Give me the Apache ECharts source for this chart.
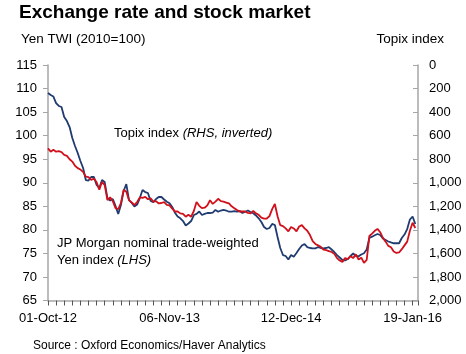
<!DOCTYPE html>
<html>
<head>
<meta charset="utf-8">
<script src="https://cdn.jsdelivr.net/npm/echarts@6/dist/echarts.min.js"></script>
<style>
  html, body { margin: 0; padding: 0; background: #fff; }
  #container { width: 466px; height: 354px; }
</style>
</head>
<body>
<div id="container"></div>
<script>
// tick labels on the date axis, one every 45 points
var xLabels = ['01-Oct-12', '06-Nov-13', '12-Dec-14', '19-Jan-16'];
var pointsPerLabel = 45;

// Topix index (RHS, inverted)
var topix = [
  238, 255, 268, 323, 348, 357, 442, 476, 527, 620,
  688, 747, 815, 875, 977, 981, 951, 951, 1019, 1045,
  977, 994, 1130, 1151, 1138, 1197, 1265, 1189, 1070, 1011,
  1147, 1172, 1202, 1185, 1130, 1062, 1079, 1087, 1155, 1164,
  1138, 1121, 1121, 1142, 1161, 1175, 1206, 1254, 1287, 1302,
  1325, 1363, 1346, 1325, 1274, 1265, 1244, 1274, 1265, 1257,
  1257, 1253, 1231, 1246, 1236, 1231, 1236, 1246, 1246, 1240,
  1246, 1240, 1257, 1246, 1236, 1248, 1259, 1278, 1302, 1333,
  1376, 1393, 1384, 1350, 1359, 1461, 1554, 1614, 1622, 1652,
  1614, 1628, 1597, 1563, 1533, 1520, 1546, 1554, 1557, 1557,
  1546, 1554, 1557, 1554, 1546, 1567, 1588, 1614, 1635, 1656,
  1660, 1648, 1622, 1601, 1622, 1625, 1609, 1599, 1567, 1469,
  1458, 1446, 1435, 1444, 1474, 1486, 1499, 1507, 1514, 1514,
  1514, 1469, 1440, 1393, 1312, 1287, 1350
];

// JP Morgan nominal trade-weighted Yen index (LHS)
var yenTwi = [
  97.3, 96.6, 97.0, 96.6, 96.7, 96.5, 95.9, 95.7, 95.0, 94.5,
  93.6, 93.1, 92.8, 92.3, 91.3, 91.2, 90.6, 90.9, 90.1, 88.5,
  90.2, 89.5, 86.3, 86.9, 86.1, 84.6, 84.4, 85.7, 88.5, 88.1,
  86.3, 85.8, 85.3, 85.9, 86.9, 86.8, 87.0, 86.5, 86.7, 86.0,
  86.1, 85.6, 85.7, 85.9, 85.3, 85.2, 84.5, 83.9, 83.9, 83.5,
  83.4, 82.8, 83.2, 82.8, 84.0, 85.9, 85.1, 84.6, 84.7, 85.2,
  86.3, 85.5, 86.0, 86.6, 86.1, 86.0, 85.8, 85.6, 85.0, 84.6,
  84.2, 83.9, 83.9, 83.9, 83.6, 83.5, 84.0, 83.5, 83.2, 82.6,
  82.4, 82.4, 82.9, 84.4, 85.5, 82.9, 81.0, 80.8, 80.3, 79.7,
  80.6, 80.3, 79.7, 80.7, 81.0, 80.3, 79.8, 78.9, 77.6, 77.0,
  76.7, 76.4, 75.8, 75.7, 75.5, 75.3, 74.9, 74.0, 73.5, 73.2,
  74.0, 73.8, 74.4, 74.0, 74.8, 73.7, 74.1, 73.0, 73.6, 78.7,
  79.2, 79.8, 80.2, 79.5, 78.3, 77.5, 76.6, 76.3, 75.4, 75.1,
  75.2, 75.9, 76.7, 77.5, 79.8, 81.5, 80.4
];

var leftTicks = { min: 65, max: 115, step: 5 };
var rightTicks = { min: 0, max: 2000, step: 200 };

var dom = document.getElementById('container');
var myChart = echarts.init(dom, null, { renderer: 'canvas' });

var font = '"Liberation Sans", Arial, sans-serif';
var axisGrey = '#a6a6a6';

var option = {
  animation: false,
  backgroundColor: '#fff',
  textStyle: { fontFamily: font, color: '#000' },
  grid: { left: 48, right: 48, top: 65, bottom: 53.5 },
  graphic: [
    { type: 'text', left: 19, top: 3,
      style: { text: 'Exchange rate and stock market', font: 'bold 19px ' + font, fill: '#000' } },
    { type: 'text', left: 21, top: 32,
      style: { text: 'Yen TWI (2010=100)', font: '13.5px ' + font, fill: '#000' } },
    { type: 'text', right: 22, top: 32,
      style: { text: 'Topix index', font: '13.5px ' + font, fill: '#000' } },
    { type: 'text', left: 114, top: 127,
      style: { rich: { n: { font: '13px ' + font, fill: '#000' }, i: { font: 'italic 13px ' + font, fill: '#000' } },
               text: '{n|Topix index }{i|(RHS, inverted)}' } },
    { type: 'text', left: 57, top: 237,
      style: { text: 'JP Morgan nominal trade-weighted', font: '13px ' + font, fill: '#000' } },
    { type: 'text', left: 57, top: 254,
      style: { rich: { n: { font: '13px ' + font, fill: '#000' }, i: { font: 'italic 13px ' + font, fill: '#000' } },
               text: '{n|Yen index }{i|(LHS)}' } },
    { type: 'text', left: 33, top: 340,
      style: { text: 'Source : Oxford Economics/Haver Analytics', font: '12px ' + font, fill: '#000' } }
  ],
  xAxis: {
    type: 'value',
    min: 0,
    max: 137,
    interval: pointsPerLabel,
    axisLine: { onZero: false, lineStyle: { color: axisGrey, width: 1.5 } },
    axisTick: { length: 5, lineStyle: { color: '#555' } },
    minorTick: { show: true, splitNumber: 15, length: 5, lineStyle: { color: '#555' } },
    splitLine: { show: false },
    axisLabel: {
      margin: 11,
      fontSize: 13,
      color: '#000',
      fontFamily: font,
      formatter: function (v) {
        var k = Math.round(v / pointsPerLabel);
        return xLabels[k] || '';
      }
    }
  },
  yAxis: [
    {
      type: 'value',
      position: 'left',
      min: leftTicks.min,
      max: leftTicks.max,
      interval: leftTicks.step,
      axisLine: { show: true, lineStyle: { color: axisGrey, width: 1.5 } },
      axisTick: { show: true, length: 5, lineStyle: { color: axisGrey } },
      splitLine: { show: false },
      axisLabel: { margin: 11, fontSize: 13, color: '#000', fontFamily: font }
    },
    {
      type: 'value',
      position: 'right',
      inverse: true,
      min: rightTicks.min,
      max: rightTicks.max,
      interval: rightTicks.step,
      axisLine: { show: true, lineStyle: { color: axisGrey, width: 1.5 } },
      axisTick: { show: true, inside: true, length: 5, lineStyle: { color: axisGrey } },
      splitLine: { show: false },
      axisLabel: {
        margin: 11, fontSize: 13, color: '#000', fontFamily: font,
        formatter: function (v) { return v.toLocaleString('en-US'); }
      }
    }
  ],
  series: [
    {
      name: 'Topix index',
      type: 'line',
      yAxisIndex: 1,
      showSymbol: false,
      lineStyle: { color: '#1f3b6f', width: 1.8 },
      data: topix.map(function (v, i) { return [i, v]; })
    },
    {
      name: 'Yen TWI',
      type: 'line',
      yAxisIndex: 0,
      showSymbol: false,
      lineStyle: { color: '#d0101a', width: 1.8 },
      data: yenTwi.map(function (v, i) { return [i, v]; })
    }
  ]
};

if (option && typeof option === 'object') {
  myChart.setOption(option);
}
</script>
</body>
</html>
